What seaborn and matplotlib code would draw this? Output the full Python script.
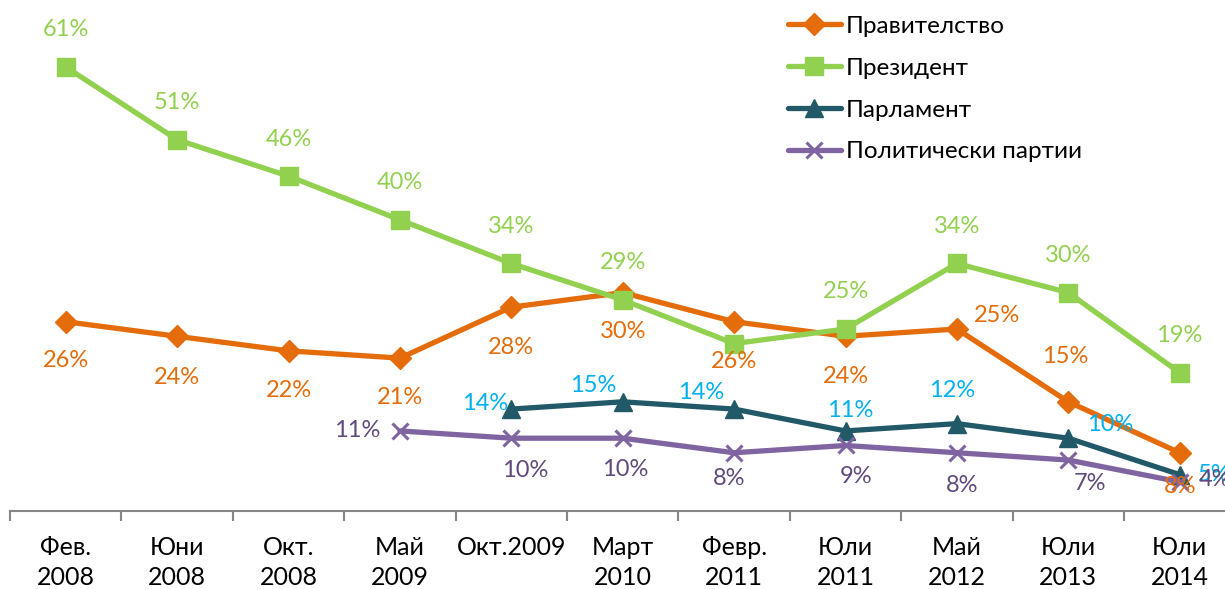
import numpy as np
import pandas as pd
import matplotlib
matplotlib.use("Agg")
import matplotlib.pyplot as plt
import seaborn as sns

categories = ["Фев.\n2008", "Юни\n2008", "Окт.\n2008", "Май\n2009", "Окт.2009",
              "Март\n2010", "Февр.\n2011", "Юли\n2011", "Май\n2012", "Юли\n2013", "Юли\n2014"]
pravitelstvo = [26, 24, 22, 21, 28, 30, 26, 24, 25, 15, 8]
prezident = [61, 51, 46, 40, 34, 29, 23, 25, 34, 30, 19]
parlament = [np.nan, np.nan, np.nan, np.nan, 14, 15, 14, 11, 12, 10, 5]
partii = [np.nan, np.nan, np.nan, 11, 10, 10, 8, 9, 8, 7, 4]
# which points carry a visible data label
prezident_labeled = [True, True, True, True, True, True, False, True, True, True, True]

sns.set_theme(style="white")
plt.rcParams['font.family'] = ['Lato', 'Open Sans', 'DejaVu Sans']

W, H = 1225, 589
fig = plt.figure(figsize=(W / 100, H / 100), dpi=100)
ax = fig.add_axes([10 / W, 78 / H, 1225.4 / W, 509.6 / H])

x = np.arange(len(categories))
series = [
    ("Правителство", pravitelstvo, "#E46C0A", "D", 11, "#E46C0A"),
    ("Президент", prezident, "#92D050", "s", 13.5, "#92D050"),
    ("Парламент", parlament, "#215968", "^", 12.5, "#00B0F0"),
    ("Политически партии", partii, "#8064A2", "x", 12, "#604A7B"),
]

# label offsets in pixels (dx, dy)
offsets = {
    "Правителство": [(0, -39), (0, -41), (0, -40), (0, -39), (0, -40), (0, -39),
                     (0, -40), (0, -40), (40, 14), (-3, 45), (0, -34)],
    "Президент": [(0, 37)] * 11,
    "Парламент": [None] * 4 + [(-26, 6), (-29, 16), (-33, 17), (5, 20), (-5, 33), (42, 14), (34, 0)],
    "Политически партии": [None] * 3 + [(-43, 0), (14, -32), (3, -31), (-5, -26), (11, -31),
                                         (5, -33), (22, -23), (35, 2)],
}

for name, vals, col, mk, ms, lcol in series:
    df = pd.DataFrame({"x": x, "y": vals}).dropna()
    sns.lineplot(data=df, x="x", y="y", ax=ax, color=col, linewidth=3.8,
                 marker=mk, markersize=ms, markeredgecolor=col,
                 markeredgewidth=2.2 if mk == "x" else 1, label=name)
    for i, v in enumerate(vals):
        if np.isnan(v):
            continue
        if name == "Президент" and not prezident_labeled[i]:
            continue
        off = offsets[name][i]
        ax.annotate(f"{int(v)}%", (x[i], v), xytext=off, textcoords="offset pixels",
                    ha="center", va="center", fontsize=17, color=lcol)

ax.set_xlim(-0.5, len(categories) - 0.5)
ax.set_ylim(0, 70)
ax.set_xticks(x)
ax.set_xticklabels(categories, fontsize=18, color="black", linespacing=1.35)
ax.set_xticks(np.arange(-0.5, len(categories), 1), minor=True)
ax.tick_params(axis="x", which="major", length=0, pad=18)
ax.tick_params(axis="x", which="minor", length=7, width=1.5, color="#868686", direction="out", bottom=True)
ax.set_yticks([])
ax.set_xlabel("")
ax.set_ylabel("")
for s in ["top", "right", "left"]:
    ax.spines[s].set_visible(False)
ax.spines["bottom"].set_color("#868686")
ax.spines["bottom"].set_linewidth(1.5)

leg = ax.legend(loc="upper left", bbox_to_anchor=(778 / W, 1 - 6 / H), bbox_transform=fig.transFigure,
                frameon=False, fontsize=17.5, handlelength=2.2, handletextpad=0.2,
                labelspacing=0.86, borderaxespad=0)
for t in leg.get_texts():
    t.set_color("black")

fig.savefig("out.png", dpi=100)
